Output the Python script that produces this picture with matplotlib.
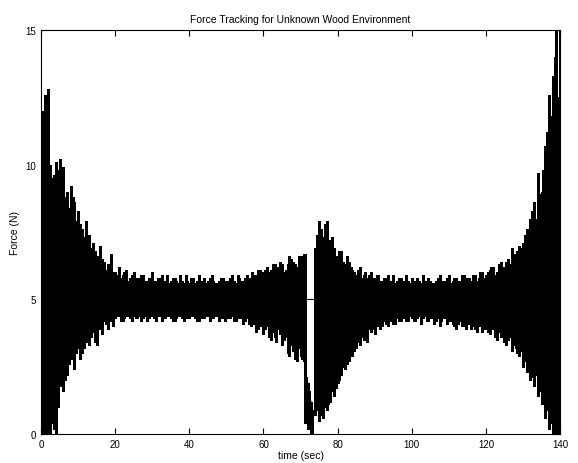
import numpy as np
import matplotlib
matplotlib.use("Agg")
import matplotlib.pyplot as plt

plt.rcParams['font.family'] = ['Liberation Sans', 'DejaVu Sans']

nan = np.nan

# solid core of the band
core_t = [0, 2, 4, 6, 8, 10, 12, 15, 18, 22, 30, 40, 50, 58, 64, 68, 71.3]
core_hi = [8.5, 8.6, 8.0, 7.2, 6.6, 6.3, 6.0, 5.7, 5.5, 5.4, 5.35, 5.3, 5.35, 5.45, 5.55, 5.8, 5.9]
core_lo = [1.8, 2.0, 2.4, 3.0, 3.5, 3.8, 4.0, 4.2, 4.4, 4.5, 4.55, 4.6, 4.55, 4.45, 4.3, 3.9, 3.6]

core_t2 = [74.2, 76, 78, 80, 83, 86, 90, 95, 100, 110, 115, 120, 124, 128, 131, 134, 136, 138, 140]
core_hi2 = [7.0, 6.8, 6.4, 6.0, 5.8, 5.6, 5.5, 5.4, 5.35, 5.35, 5.4, 5.5, 5.8, 6.0, 6.4, 7.0, 7.8, 8.8, 9.5]
core_lo2 = [1.0, 1.4, 2.0, 2.6, 3.2, 3.7, 4.1, 4.3, 4.5, 4.5, 4.45, 4.35, 4.1, 3.8, 3.4, 2.8, 2.2, 1.4, 1.0]

# peak force each second, t = 0..140 (nan inside the gap)
peak_t = list(range(0, 141))
peak_hi = [10.5, 12.6, 12.8, 9.5, 10.1, 10.2, 9.9, 9.0, 9.2, 8.6,
           8.3, 7.6, 7.9, 7.4, 7.1, 6.6, 7.0, 6.4, 6.3, 6.7,
           6.0, 6.2, 5.9, 6.1, 5.8, 6.0, 5.8, 5.9, 5.7, 5.8,
           6.0, 5.7, 5.8, 5.6, 5.9, 5.7, 5.8, 5.6, 5.7, 5.9,
           5.6, 5.8, 5.7, 5.6, 5.8, 5.7, 5.9, 5.6, 5.7, 5.8,
           5.6, 5.8, 5.7, 5.9, 5.7, 5.8, 5.8, 6.0, 5.9, 6.1,
           6.0, 6.2, 6.1, 6.3, 6.2, 6.3, 6.1, 6.6, 6.4, 6.2,
           6.6, 6.7, nan, nan, 6.9, 7.9, 7.3, 7.9, 7.2, 6.9,
           6.5, 6.8, 6.3, 6.4, 6.1, 5.9, 6.2, 5.9, 5.8, 6.0,
           5.8, 5.9, 5.7, 5.8, 5.6, 5.9, 5.7, 5.8, 5.6, 5.7,
           5.8, 5.6, 5.7, 5.9, 5.6, 5.7, 5.6, 5.8, 5.6, 5.7,
           5.9, 5.7, 5.8, 5.7, 5.9, 5.8, 5.7, 5.9, 5.8, 6.0,
           5.9, 6.1, 6.2, 6.0, 6.4, 6.2, 6.5, 6.9, 6.6, 7.0,
           7.1, 7.6, 8.0, 8.6, 9.7, 9.0, 10.7, 12.6, 13.3, 15.0,
           15.0]
peak_lo = [0.0, 0.0, 0.0, 0.4, 0.0, 2.5, 1.6, 2.2, 2.8, 2.4,
           3.2, 3.0, 3.4, 3.3, 3.8, 3.3, 4.0, 4.2, 3.9, 4.3,
           4.3, 4.4, 4.2, 4.4, 4.3, 4.4, 4.3, 4.2, 4.4, 4.3,
           4.4, 4.2, 4.4, 4.3, 4.4, 4.3, 4.2, 4.4, 4.3, 4.4,
           4.3, 4.4, 4.2, 4.4, 4.3, 4.4, 4.3, 4.4, 4.2, 4.3,
           4.4, 4.3, 4.2, 4.4, 4.3, 4.2, 4.1, 4.2, 3.8, 4.0,
           3.7, 4.0, 3.5, 3.6, 3.9, 3.3, 3.6, 2.9, 3.1, 2.7,
           2.9, 2.7, nan, nan, 0.7, 0.5, 0.6, 0.9, 1.2, 1.4,
           1.9, 2.2, 2.4, 2.7, 2.9, 3.2, 3.3, 3.5, 3.4, 3.8,
           3.7, 4.0, 4.0, 4.1, 4.2, 4.1, 4.3, 4.2, 4.3, 4.2,
           4.3, 4.2, 4.4, 4.3, 4.2, 4.3, 4.1, 4.3, 4.2, 4.3,
           4.2, 4.1, 3.9, 4.2, 4.0, 4.1, 3.9, 3.9, 4.0, 3.8,
           3.9, 3.7, 3.9, 3.5, 3.6, 3.4, 3.5, 3.1, 3.2, 2.9,
           2.5, 2.3, 2.0, 1.8, 1.4, 1.1, 0.6, 0.2, 0.0, 0.3,
           0.0]

# peaks on the half seconds, t = 0.5..139.5
half_t = [k + 0.5 for k in range(0, 140)]
half_hi = [12.0, 11.5, 10.0, 9.6, 9.8, 9.4, 8.8, 8.4, 8.8, 7.9,
           7.8, 7.3, 7.0, 6.9, 6.8, 6.4, 6.5, 6.1, 6.2, 6.0,
           5.9, 5.8, 6.0, 5.7, 5.9, 5.7, 5.8, 5.9, 5.7, 5.8,
           5.7, 5.8, 5.9, 5.7, 5.6, 5.8, 5.7, 5.9, 5.6, 5.7,
           5.8, 5.6, 5.9, 5.7, 5.6, 5.8, 5.7, 5.6, 5.8, 5.7,
           5.7, 5.9, 5.6, 5.8, 5.7, 5.9, 5.8, 5.9, 6.1, 5.9,
           6.1, 6.0, 6.3, 6.1, 6.4, 6.0, 6.3, 6.5, 6.3, 6.6,
           6.4, nan, nan, nan, 7.4, 7.6, 7.8, 7.0, 7.3, 6.6,
           6.8, 6.4, 6.6, 6.2, 6.0, 6.1, 5.8, 6.0, 5.9, 5.8,
           5.9, 5.7, 5.8, 5.9, 5.7, 5.6, 5.8, 5.7, 5.9, 5.6,
           5.7, 5.8, 5.6, 5.7, 5.8, 5.6, 5.7, 5.9, 5.7, 5.8,
           5.6, 5.8, 5.7, 5.9, 5.7, 5.8, 5.9, 5.7, 6.0, 5.8,
           6.0, 6.2, 5.9, 6.3, 6.1, 6.4, 6.3, 6.7, 6.8, 6.9,
           7.4, 7.2, 8.3, 8.0, 8.9, 9.8, 11.2, 11.8, 14.0, 12.5]
half_lo = [0.0, 0.3, 0.0, 0.2, 1.0, 1.8, 2.0, 2.6, 2.9, 3.0,
           2.8, 3.2, 3.5, 3.6, 3.4, 3.9, 3.7, 4.1, 4.2, 4.0,
           4.4, 4.2, 4.3, 4.4, 4.2, 4.3, 4.4, 4.3, 4.2, 4.4,
           4.3, 4.4, 4.2, 4.3, 4.4, 4.2, 4.3, 4.4, 4.2, 4.3,
           4.4, 4.3, 4.2, 4.3, 4.4, 4.2, 4.3, 4.4, 4.3, 4.2,
           4.3, 4.4, 4.2, 4.3, 4.1, 4.3, 4.0, 4.1, 3.9, 4.1,
           3.9, 3.6, 3.8, 3.4, 3.7, 3.5, 3.0, 3.3, 2.8, 3.2,
           2.8, nan, nan, nan, 0.9, 0.7, 1.0, 1.1, 1.6, 1.7,
           2.0, 2.5, 2.6, 3.0, 3.1, 3.4, 3.6, 3.7, 3.9, 3.9,
           4.1, 3.9, 4.2, 4.0, 4.3, 4.1, 4.2, 4.3, 4.2, 4.4,
           4.2, 4.3, 4.1, 4.4, 4.2, 4.3, 4.2, 4.0, 4.3, 4.1,
           4.2, 4.0, 4.1, 4.0, 3.9, 4.1, 4.0, 3.8, 4.1, 3.9,
           3.8, 4.0, 3.6, 3.8, 3.7, 3.3, 3.6, 3.3, 3.0, 3.1,
           2.7, 2.6, 2.1, 2.2, 1.6, 1.3, 0.9, 0.4, 0.0, 0.0]

# low-force burst inside the gap, and the flat 5 N segment across it
gap_t = [71.6, 72.0, 72.4, 72.8, 73.2]
gap_hi = [2.1, 1.9, 1.6, 1.2, 0.9]
gap_lo = [0.4, 0.2, 0.3, 0.0, 0.0]
edge_t = [71.3, 74.0]
edge_lo = [0.4, 0.8]
edge_hi = [6.7, 4.2]
hold_t = [71.5, 74.2]
hold_f = [5.0, 5.0]

fig, ax = plt.subplots(figsize=(5.78, 4.64), dpi=100)
fig.subplots_adjust(left=0.071, right=0.969, bottom=0.0625, top=0.933)

ax.fill_between(core_t, core_lo, core_hi, color='black', lw=0)
ax.fill_between(core_t2, core_lo2, core_hi2, color='black', lw=0)
ax.vlines(peak_t, peak_lo, peak_hi, color='black', lw=1.0, antialiased=False)
ax.vlines(half_t, half_lo, half_hi, color='black', lw=1.0, antialiased=False)
ax.fill_between(gap_t, gap_lo, gap_hi, color='black', lw=0)
ax.vlines(gap_t, gap_lo, gap_hi, color='black', lw=1.0, antialiased=False)
ax.vlines(edge_t, edge_lo, edge_hi, color='black', lw=1.0, antialiased=False)
ax.plot(hold_t, hold_f, color='black', lw=0.8)

ax.set_xlim(0, 140)
ax.set_ylim(0, 15)
ax.set_xticks(range(0, 141, 20))
ax.set_yticks([0, 5, 10, 15])
ax.tick_params(direction='in', top=True, right=True, labelsize=7, length=4)
ax.set_title('Force Tracking for Unknown Wood Environment', fontsize=7.5)
ax.set_xlabel('time (sec)', fontsize=7.5, labelpad=1)
ax.set_ylabel('Force (N)', fontsize=7.5)

plt.savefig('out.png', dpi=100)
